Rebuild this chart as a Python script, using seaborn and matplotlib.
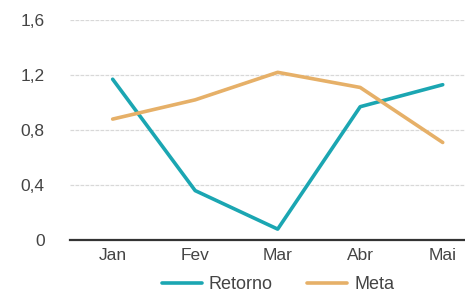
import matplotlib
matplotlib.use("Agg")
import matplotlib.pyplot as plt
import seaborn as sns
import pandas as pd

months = ["Jan", "Fev", "Mar", "Abr", "Mai"]
retorno = [1.17, 0.36, 0.08, 0.97, 1.13]
meta = [0.88, 1.02, 1.22, 1.11, 0.71]

df = pd.DataFrame({
    "mes": months * 2,
    "valor": retorno + meta,
    "serie": ["Retorno"] * len(months) + ["Meta"] * len(months),
})

sns.set_theme(style="white")
plt.rcParams['font.family'] = ['Liberation Sans', 'DejaVu Sans']

fig = plt.figure(figsize=(4.65, 2.95), dpi=100)
ax = fig.add_axes([0.15, 0.186, 0.85, 0.746])

sns.lineplot(data=df, x="mes", y="valor", hue="serie", sort=False,
             palette={"Retorno": "#1ba6b2", "Meta": "#e6b068"},
             linewidth=2.6, ax=ax)

ax.set_xlim(-0.52, 4.27)
ax.set_ylim(0, 1.6)
ax.set_yticks([0, 0.4, 0.8, 1.2, 1.6])
ax.set_yticklabels(["0", "0,4", "0,8", "1,2", "1,6"])
ax.yaxis.grid(True, color="#d8d8d8", linewidth=0.9, linestyle=(0, (3, 1)))
ax.set_axisbelow(True)
for side in ["left", "right", "top"]:
    ax.spines[side].set_visible(False)
ax.spines["bottom"].set_color("#333333")
ax.spines["bottom"].set_linewidth(1.6)
ax.tick_params(axis="both", length=0, labelsize=12.5, colors="#444444")
ax.tick_params(axis="y", pad=18)
ax.tick_params(axis="x", pad=6)
ax.set_xlabel("")
ax.set_ylabel("")

ax.legend(loc="center", bbox_to_anchor=(0.598, 0.035), bbox_transform=fig.transFigure,
          ncol=2, frameon=False, fontsize=13, handlelength=2.2, columnspacing=1.9,
          handletextpad=0.4, labelcolor="#444444", borderpad=0)

fig.savefig("out.png", dpi=100)
